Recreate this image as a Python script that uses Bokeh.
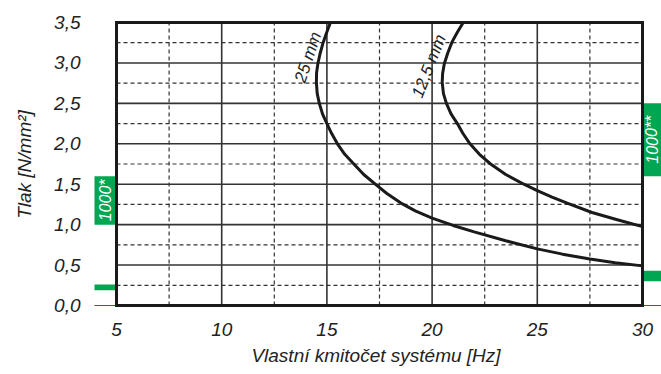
from bokeh.plotting import figure
from bokeh.models import Range1d, FixedTicker
from bokeh.core.properties import value
from bokeh.embed import file_html
from bokeh.resources import INLINE

# ---- data ----
x_ticks = [5, 10, 15, 20, 25, 30]
x_minor = [7.5, 12.5, 17.5, 22.5, 27.5]
y_ticks = [0.0, 0.5, 1.0, 1.5, 2.0, 2.5, 3.0, 3.5]
y_tick_labels = ["0,0", "0,5", "1,0", "1,5", "2,0", "2,5", "3,0", "3,5"]
y_minor = [0.25, 0.75, 1.25, 1.75, 2.25, 2.75, 3.25]

c25_x = [15.17, 14.98, 14.82, 14.68, 14.57, 14.51, 14.50, 14.54, 14.64, 14.79, 15.00, 15.22,
         15.50, 15.85, 16.28, 16.75, 17.30, 17.85, 18.50, 19.20, 20.0, 21.0, 22.0,
         23.5, 25.0, 26.2, 27.5, 28.7, 30.0]
c25_y = [3.50, 3.37, 3.25, 3.12, 2.99, 2.88, 2.76, 2.62, 2.50, 2.37, 2.25, 2.13,
         2.00, 1.87, 1.75, 1.62, 1.50, 1.385, 1.27, 1.17, 1.08, 0.99, 0.91,
         0.80, 0.70, 0.635, 0.575, 0.53, 0.49]
c12_x = [21.48, 21.20, 20.95, 20.74, 20.58, 20.50, 20.48, 20.54, 20.68, 20.90, 21.20, 21.46,
         21.80, 22.25, 22.78, 23.50, 24.36, 25.0, 25.7, 26.42, 27.6, 28.8, 30.0]
c12_y = [3.50, 3.38, 3.26, 3.12, 2.99, 2.87, 2.76, 2.62, 2.50, 2.37, 2.25, 2.13,
         2.00, 1.87, 1.75, 1.62, 1.50, 1.42, 1.34, 1.265, 1.15, 1.06, 0.975]

left_box = (1.0, 1.6)      # "1000*"
left_bar = (0.19, 0.26)
right_box = (1.6, 2.5)     # "1000**"
right_bar = (0.30, 0.43)

FONT = "Liberation Sans"
TXT = "#222222"
GREEN = "#00a651"

x0, x1 = 5, 30
y0, y1 = 0.0, 3.5
pxx = (642 - 116) / 25.0
pxy = (305 - 22) / 3.5

p = figure(width=661, height=374,
           x_range=Range1d(x0 - 26 / pxx, x1 + 19 / pxx),
           y_range=Range1d(y0 - 3 / pxy, y1 + 2 / pxy),
           output_backend="svg", toolbar_location=None,
           min_border_left=90, min_border_right=0,
           min_border_top=20, min_border_bottom=66)
p.outline_line_color = None
p.xgrid.visible = False
p.ygrid.visible = False
p.background_fill_color = None

# axes
p.xaxis.ticker = FixedTicker(ticks=x_ticks)
p.yaxis.ticker = FixedTicker(ticks=y_ticks)
p.yaxis.major_label_overrides = {t: l for t, l in zip(y_ticks, y_tick_labels)}
for ax in (p.xaxis[0], p.yaxis[0]):
    ax.axis_line_color = None
    ax.major_tick_line_color = None
    ax.minor_tick_line_color = None
    ax.major_tick_out = 0
    ax.major_tick_in = 0
    ax.major_label_text_font = FONT
    ax.major_label_text_font_style = "italic"
    ax.major_label_text_font_size = "19px"
    ax.major_label_text_color = TXT
    ax.axis_label_text_font = FONT
    ax.axis_label_text_font_style = "italic"
    ax.axis_label_text_font_size = "19px"
    ax.axis_label_text_color = TXT
p.xaxis.axis_label = "Vlastní kmitočet systému [Hz]"
p.yaxis.axis_label = "Tlak [N/mm²]"
p.yaxis.major_label_standoff = 10
p.yaxis.axis_label_standoff = 16
p.xaxis.major_label_standoff = 14
p.xaxis.axis_label_standoff = 6

# grid
p.segment(x0=[x0] * len(y_minor), y0=y_minor, x1=[x1] * len(y_minor), y1=y_minor,
          line_color="#333333", line_width=1.2, line_dash="4 3")
p.segment(x0=x_minor, y0=[y0] * len(x_minor), x1=x_minor, y1=[y1] * len(x_minor),
          line_color="#333333", line_width=1.2, line_dash="4 3")
ym = y_ticks[1:-1]
p.segment(x0=[x0] * len(ym), y0=ym, x1=[x1] * len(ym), y1=ym,
          line_color="#333333", line_width=1.6)
xm = x_ticks[1:-1]
p.segment(x0=xm, y0=[y0] * len(xm), x1=xm, y1=[y1] * len(xm),
          line_color="#333333", line_width=1.6)

# red baseline outside
xr = p.x_range
p.segment(x0=[x0 - 22 / pxx, x1], y0=[0, 0], x1=[x0, xr.end], y1=[0, 0],
          line_color="#d42020", line_width=1)

# green markers
p.quad(left=[x0 - 22 / pxx] * 2, right=[x0] * 2,
       bottom=[left_box[0], left_bar[0]], top=[left_box[1], left_bar[1]],
       fill_color=GREEN, line_color=None)
p.quad(left=[x1] * 2, right=[xr.end] * 2,
       bottom=[right_box[0], right_bar[0]], top=[right_box[1], right_bar[1]],
       fill_color=GREEN, line_color=None)
p.text(x=[x0 - 11 / pxx], y=[sum(left_box) / 2], text=["1000*"], angle=1.5708,
       text_align="center", text_baseline="middle", text_color="white",
       text_font=value(FONT), text_font_style="italic", text_font_size="16px")
p.text(x=[x1 + 9.5 / pxx], y=[sum(right_box) / 2], text=["1000**"], angle=1.5708,
       text_align="center", text_baseline="middle", text_color="white",
       text_font=value(FONT), text_font_style="italic", text_font_size="16px")

# curves
p.line(c25_x, c25_y, line_color="#1a1a1a", line_width=3, line_join="round")
p.line(c12_x, c12_y, line_color="#1a1a1a", line_width=3, line_join="round")
p.text(x=[14.1], y=[3.07], text=["25 mm"], angle=1.25,
       text_align="center", text_baseline="middle", text_color=TXT,
       text_font=value(FONT), text_font_style="italic", text_font_size="17px")
p.text(x=[19.85], y=[2.96], text=["12,5 mm"], angle=1.2,
       text_align="center", text_baseline="middle", text_color=TXT,
       text_font=value(FONT), text_font_style="italic", text_font_size="17px")

# frame
p.segment(x0=[x0, x0, x0, x1], y0=[y0, y1, y0, y0], x1=[x1, x1, x0, x1], y1=[y0, y1, y1, y1],
          line_color="#1a1a1a", line_width=3, line_cap="square")

open("out.html", "w").write(file_html(p, INLINE))
